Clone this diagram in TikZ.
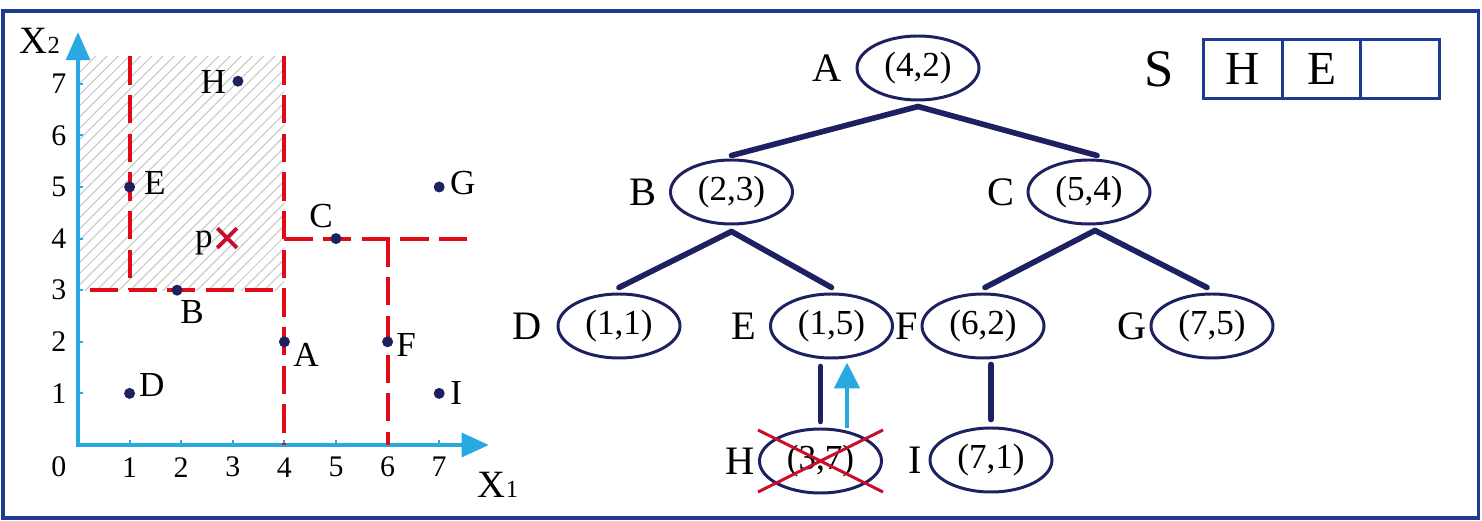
\documentclass[tikz,border=0pt]{standalone}
\usepackage{fontspec}
\setmainfont{Liberation Serif}
\usetikzlibrary{positioning,arrows.meta,shapes.geometric,patterns.meta}

\definecolor{navy}{HTML}{1D2161}
\definecolor{frameblue}{HTML}{1F3A93}
\definecolor{axisblue}{HTML}{29A9E1}
\definecolor{splitred}{HTML}{E30A17}
\definecolor{crossred}{HTML}{C8102E}

\begin{document}
\begin{tikzpicture}[
  kd/.style={ellipse, draw=navy, line width=1.7pt, minimum width=2.44cm,
             minimum height=1.28cm, inner sep=0pt, font=\fontsize{20}{22}\selectfont},
  tag/.style={inner sep=0pt, font=\fontsize{23}{25}\selectfont},
  edge/.style={draw=navy, line width=3.2pt, line cap=round},
  back/.style={axisblue, line width=2.8pt, -{Triangle[length=0.52cm,width=0.5cm]}},
  cell/.style={rectangle, draw=frameblue, line width=1.7pt, minimum width=1.57cm,
               minimum height=1.17cm, inner sep=0pt, outer sep=0pt,
               font=\fontsize{27}{29}\selectfont},
  axis/.style={axisblue, line width=1.9pt},
  split/.style={splitred, line width=2.3pt, dash pattern=on 16pt off 6pt},
  dot/.style={circle, fill=navy, inner sep=0pt, minimum size=0.22cm},
  num/.style={inner sep=0pt, font=\fontsize{17}{19}\selectfont},
  ptlbl/.style={inner sep=0pt, font=\fontsize{20}{22}\selectfont},
  cross/.style={crossred, line width=1.7pt}
]
\useasboundingbox (0,0) rectangle (29.64,10.42);
\draw[frameblue, line width=2pt] (0.06,0.06) rectangle (29.57,10.2);

% plane with the splitting lines
\begin{scope}[shift={(1.56,1.52)}, x=1.032cm, y=1.032cm]
  \fill[pattern={Lines[angle=45,distance=4.5pt,line width=0.6pt]},
        pattern color=black!22] (0,3) rectangle (4,7.53);
  \draw[axis, {Triangle[length=0.56cm,width=0.48cm]}-{Triangle[length=0.54cm,width=0.48cm]}]
    (0,8) -- (0,0) -- (7.96,0);
  \foreach \i in {1,...,7} {
    \draw[axis, line width=1.2pt] (\i,0) -- (\i,0.1);
    \draw[axis, line width=1.2pt] (0,\i) -- (0.1,\i);
    \node[num] (xn\i) at (\i,-0.43) {\i};
    \node[num] (yn\i) at (-0.37,\i) {\i};
  }
  \node[num] (zero) at (-0.37,-0.43) {0};
  \node[inner sep=0pt] (ylbl) at (-0.74,7.84)
    {\fontsize{22}{24}\selectfont X\fontsize{14}{16}\selectfont 2};
  \node[inner sep=0pt] (xlbl) at (8.14,-0.78)
    {\fontsize{22}{24}\selectfont X\fontsize{14}{16}\selectfont 1};

  \draw[split] (1,7.53) -- (1,3);
  \draw[split] (4,7.53) -- (4,0);
  \draw[split] (0.23,3) -- (4,3);
  \draw[split] (4,4) -- (7.55,4);
  \draw[split] (6,4) -- (6,0);

  \foreach \name/\x/\y in {A/4/2, B/1.92/3, C/5/4, D/1/1, E/1/5,
                           F/6/2, G/7/5, H/3.1/7.05, I/7/1}
    \node[dot] (pt\name) at (\x,\y) {};
  \foreach \name/\x/\y in {A/4.42/1.74, B/2.21/2.58, C/4.71/4.44, D/1.43/1.16,
                           E/1.49/5.08, F/6.36/1.94, G/7.46/5.08, H/2.62/7.03,
                           I/7.33/1.01}
    \node[ptlbl] (lbl\name) at (\x,\y) {\name};

  \coordinate (p) at (2.89,4.01);
  \draw[cross, line width=2.2pt] ([shift={(-0.19,-0.19)}]p) -- ([shift={(0.19,0.19)}]p);
  \draw[cross, line width=2.2pt] ([shift={(-0.19,0.19)}]p) -- ([shift={(0.19,-0.19)}]p);
  \node[ptlbl] (lblp) at (2.44,3.91) {p};
\end{scope}

% kd-tree
\node[kd] (A) at (18.36,9.06) {(4,2)};
\node[kd] (B) at (14.63,6.58) {(2,3)};
\node[kd] (C) at (21.78,6.58) {(5,4)};
\node[kd] (D) at (12.38,3.90) {(1,1)};
\node[kd] (E) at (16.63,3.90) {(1,5)};
\node[kd] (F) at (19.66,3.90) {(6,2)};
\node[kd] (G) at (24.24,3.90) {(7,5)};
\node[kd] (H) at (16.41,1.20) {(3,7)};
\node[kd] (I) at (19.82,1.22) {(7,1)};

\node[tag, left=0.26cm of A] (tA) {A};
\node[tag, left=0.24cm of B] (tB) {B};
\node[tag, left=0.24cm of C] (tC) {C};
\node[tag, left=0.28cm of D] (tD) {D};
\node[tag, left=0.24cm of E] (tE) {E};
\node[tag, left=0.04cm of F] (tF) {F};
\node[tag, left=0.04cm of G] (tG) {G};
\node[tag, left=0.06cm of H] (tH) {H};
\node[tag, left=0.12cm of I] (tI) {I};

\draw[edge] ([yshift=-0.1cm]A.south) -- ([yshift=0.06cm]B.north);
\draw[edge] ([yshift=-0.1cm]A.south) -- ([xshift=0.16cm,yshift=0.06cm]C.north);
\draw[edge] ([yshift=-0.12cm]B.south) -- ([yshift=0.1cm]D.north);
\draw[edge] ([yshift=-0.12cm]B.south) -- ([yshift=0.1cm]E.north);
\draw[edge] ([xshift=0.12cm,yshift=-0.1cm]C.south) -- ([xshift=0.04cm,yshift=0.1cm]F.north);
\draw[edge] ([xshift=0.12cm,yshift=-0.1cm]C.south) -- ([xshift=-0.1cm,yshift=0.1cm]G.north);
\draw[edge] ([yshift=-0.14cm]E.south -| H.north) -- ([yshift=0.12cm]H.north);
\draw[edge] ([yshift=-0.1cm]F.south -| I.north) -- ([yshift=0.14cm]I.north);
\draw[back] ([xshift=0.53cm]H.north) -- ([xshift=0.53cm,yshift=-0.06cm]H.north |- E.south);

\draw[cross] ([shift={(-1.25,0.62)}]H.center) -- ([shift={(1.25,-0.62)}]H.center);
\draw[cross] ([shift={(-1.25,-0.62)}]H.center) -- ([shift={(1.25,0.62)}]H.center);

% stack S
\node[cell] (s1) at (24.86,9.04) {H};
\node[cell, right=0pt of s1] (s2) {E};
\node[cell, right=0pt of s2] (s3) {};
\node[inner sep=0pt, font=\fontsize{30}{32}\selectfont, left=0.6cm of s1] (S) {S};
\end{tikzpicture}
\end{document}
